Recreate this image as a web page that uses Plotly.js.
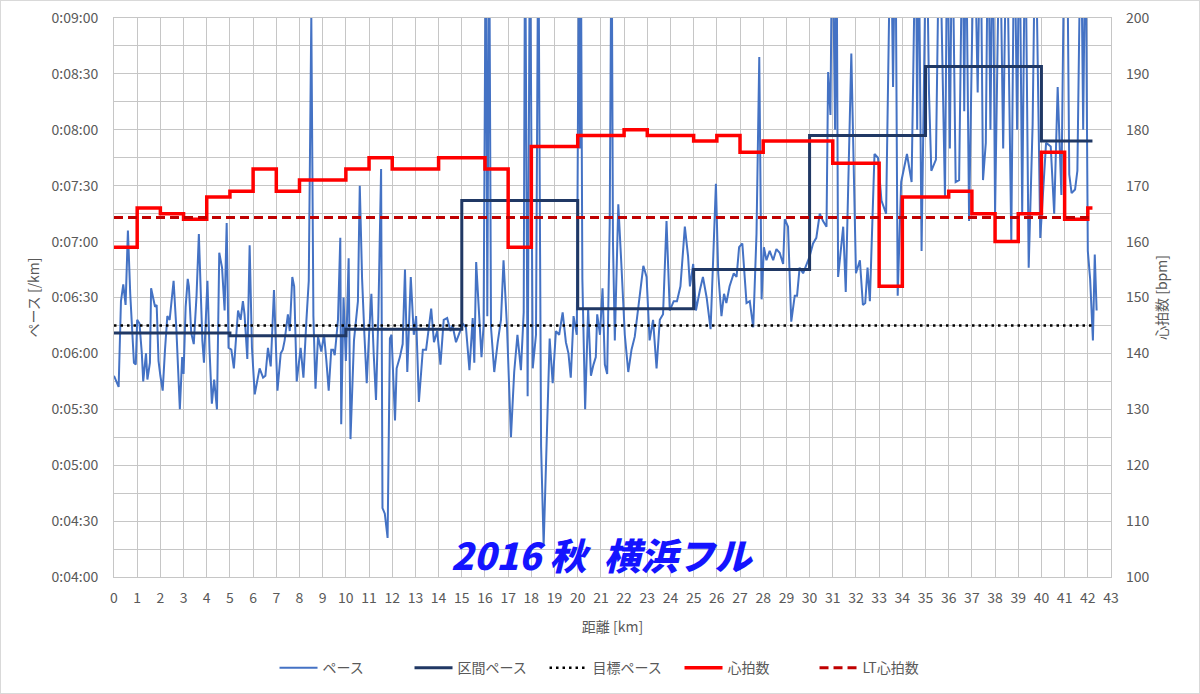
<!DOCTYPE html>
<html>
<head>
<meta charset="utf-8">
<script src="https://cdn.plot.ly/plotly-3.0.1.min.js"></script>
<style>
html,body{margin:0;padding:0;background:#fff;}
#chart{width:1200px;height:694px;box-sizing:border-box;border:1px solid #d9d9d9;}
</style>
</head>
<body>
<div id="chart"></div>
<script>
// ---- data (pace in seconds per km, heart rate in bpm) ----
const paceKm = [0.0,0.1,0.2,0.3,0.4,0.5,0.6,0.7,0.8,0.86,0.94,1.0,1.1,1.2,1.26,1.38,1.44,1.55,1.6,1.7,1.77,1.84,1.92,2.0,2.1,2.2,2.3,2.4,2.5,2.57,2.69,2.76,2.84,2.94,3.0,3.09,3.18,3.23,3.33,3.44,3.56,3.66,3.75,3.81,3.88,3.96,4.03,4.12,4.22,4.32,4.44,4.54,4.66,4.77,4.86,4.94,5.06,5.17,5.27,5.35,5.46,5.56,5.63,5.75,5.85,5.95,6.07,6.17,6.28,6.43,6.53,6.64,6.76,6.9,7.05,7.19,7.28,7.36,7.5,7.58,7.69,7.77,7.88,8.05,8.17,8.3,8.4,8.51,8.6,8.69,8.8,8.94,9.06,9.16,9.26,9.37,9.45,9.52,9.66,9.76,9.8,9.9,10.0,10.12,10.2,10.35,10.45,10.52,10.6,10.7,10.8,10.9,11.0,11.1,11.2,11.3,11.4,11.52,11.58,11.68,11.8,11.9,11.97,12.05,12.12,12.19,12.33,12.45,12.55,12.65,12.8,12.93,13.03,13.15,13.32,13.46,13.58,13.68,13.8,13.94,14.08,14.22,14.37,14.51,14.6,14.75,14.9,15.04,15.18,15.33,15.47,15.54,15.62,15.75,15.85,15.94,16.04,16.1,16.18,16.26,16.4,16.55,16.69,16.8,16.95,17.12,17.26,17.4,17.55,17.67,17.73,17.84,17.94,18.06,18.2,18.3,18.42,18.53,18.67,18.79,18.92,19.06,19.2,19.35,19.49,19.6,19.7,19.82,19.96,20.06,20.1,20.13,20.2,20.32,20.45,20.57,20.68,20.78,20.84,20.96,21.07,21.17,21.27,21.38,21.46,21.52,21.6,21.75,21.89,22.03,22.18,22.32,22.46,22.65,22.83,22.97,23.1,23.25,23.4,23.54,23.68,23.83,23.97,24.14,24.28,24.43,24.62,24.76,24.84,24.98,25.1,25.27,25.4,25.56,25.73,25.84,25.96,26.06,26.2,26.31,26.41,26.55,26.73,26.85,26.96,27.1,27.28,27.42,27.57,27.71,27.83,27.93,28.03,28.14,28.28,28.43,28.57,28.71,28.86,28.93,29.07,29.21,29.36,29.46,29.57,29.72,29.86,30.0,30.15,30.29,30.44,30.58,30.73,30.8,30.9,30.98,31.1,31.16,31.23,31.45,31.56,31.8,32.0,32.17,32.3,32.4,32.5,32.6,32.8,32.95,33.1,33.3,33.5,33.6,33.7,33.8,33.95,34.2,34.4,34.58,34.64,34.7,34.83,35.04,35.15,35.25,35.45,35.6,35.84,35.94,36.05,36.15,36.3,36.45,36.6,36.67,36.74,36.88,37.1,37.25,37.37,37.48,37.6,37.7,37.8,37.9,38.0,38.2,38.35,38.5,38.7,38.83,38.95,39.05,39.17,39.3,39.45,39.62,39.74,39.95,40.2,40.4,40.55,40.7,40.86,41.0,41.1,41.2,41.3,41.45,41.55,41.7,41.8,41.9,42.0,42.1,42.22,42.3,42.38];
const paceSec = [348,345,342,388,397,386,426,392,370,355,354,378,376,360,345,360,346,355,395,390,385,386,356,348,340,362,380,378,392,399,373,352,330,358,349,385,400,396,371,365,391,424,390,367,355,380,399,362,333,346,330,414,406,383,430,363,362,352,370,383,378,388,381,357,418,363,338,345,352,347,348,363,353,394,340,360,362,367,381,372,401,396,345,363,347,378,399,541,380,341,369,361,370,356,340,362,362,359,378,422,322,390,356,411,314,367,380,388,450,400,370,344,370,392,360,335,380,459,277,274,261,368,370,340,324,352,358,365,405,350,401,370,380,334,362,362,375,384,366,372,354,378,379,372,375,366,371,376,374,351,379,355,409,378,358,375,600,380,600,374,350,366,378,410,374,315,350,370,351,382,600,337,600,352,370,600,310,257,320,368,344,372,370,382,366,360,347,380,370,600,470,600,400,330,384,348,354,358,381,370,395,354,349,430,600,420,367,440,406,370,350,362,369,387,407,401,367,378,352,378,381,431,383,388,388,396,428,412,396,408,383,394,401,390,373,410,451,403,380,392,387,396,403,401,417,419,387,388,374,424,519,389,417,410,415,410,416,414,408,432,428,377,391,391,406,403,408,412,419,422,435,431,428,511,488,600,480,600,401,428,393,521,403,410,386,387,406,388,467,465,442,435,600,503,600,391,452,467,452,600,480,600,415,600,500,458,464,600,444,600,470,600,452,453,600,490,600,431,600,500,600,453,473,600,480,600,435,600,470,600,420,600,480,600,435,600,406,483,600,422,473,471,435,503,445,600,600,456,446,448,458,600,480,600,415,400,367,413,383];

const zoneKm   = [0,5,10,15,20,25,30,35,40,42.2];
const zonePace = [371,369.5,373,442,384,405,477,514,474,474];

const targetKm   = [0,42.2];
const targetPace = [375,375];

const hrKm = [0,1,2,3,4,5,6,7,8,9,10,11,12,13,14,15,16,17,18,19,20,21,22,23,24,25,26,27,28,29,30,31,32,33,34,35,36,37,38,39,40,41,42,42.2];
const hrBpm = [159,166,165,164,168,169,173,169,171,171,173,175,173,173,175,175,173,159,177,177,179,179,180,179,179,178,179,176,178,178,178,174,174,152,168,168,169,165,160,165,176,164,166,166];

const ltKm  = [0,42.2];
const ltBpm = [164.3,164.3];

const paceTickVals = [240,270,300,330,360,390,420,450,480,510,540];
const paceTickText = ['0:04:00','0:04:30','0:05:00','0:05:30','0:06:00','0:06:30','0:07:00','0:07:30','0:08:00','0:08:30','0:09:00'];

const seriesNames = ['ペース','区間ペース','目標ペース','心拍数','LT心拍数'];
const titleText = '2016 秋  横浜フル';

// ---- chart ----
const FONT = 'Noto Sans CJK JP, Noto Sans, sans-serif';
const GRID = '#c6c6c6';
const TXT = '#595959';

const traces = [
  {x: paceKm, y: paceSec, name: seriesNames[0], type: 'scatter', mode: 'lines',
   line: {color: '#4472c4', width: 2}, yaxis: 'y'},
  {x: zoneKm, y: zonePace, name: seriesNames[1], type: 'scatter', mode: 'lines',
   line: {color: '#203864', width: 3, shape: 'hv'}, yaxis: 'y'},
  {x: targetKm, y: targetPace, name: seriesNames[2], type: 'scatter', mode: 'lines',
   line: {color: '#000000', width: 2.5, dash: '2.5px,4px'}, yaxis: 'y'},
  {x: hrKm, y: hrBpm, name: seriesNames[3], type: 'scatter', mode: 'lines',
   line: {color: '#ff0000', width: 3.5, shape: 'hv'}, yaxis: 'y2'},
  {x: ltKm, y: ltBpm, name: seriesNames[4], type: 'scatter', mode: 'lines',
   line: {color: '#c00000', width: 3, dash: '9px,5px'}, yaxis: 'y2'}
];

const layout = {
  width: 1198, height: 692,
  margin: {l: 113, r: 88, t: 17, b: 116, autoexpand: false},
  paper_bgcolor: '#ffffff', plot_bgcolor: '#ffffff',
  font: {family: FONT, size: 14, color: TXT},
  showlegend: true,
  legend: {orientation: 'h', x: 0.161, xanchor: 'left', y: -0.163, yanchor: 'middle',
           font: {family: FONT, size: 14, color: TXT}, itemwidth: 38,
           entrywidth: 82, entrywidthmode: 'pixels', tracegroupgap: 0},
  xaxis: {range: [0, 43], tickmode: 'linear', tick0: 0, dtick: 1,
          showgrid: true, gridcolor: GRID, gridwidth: 1, zeroline: false,
          showline: true, linecolor: GRID, mirror: true,
          ticks: '', ticklabelstandoff: 8,
          tickfont: {family: FONT, size: 14, color: TXT},
          title: {text: '距離 [km]', font: {family: FONT, size: 14, color: TXT}, standoff: 16}},
  yaxis: {range: [240, 540], tickmode: 'array', tickvals: paceTickVals, ticktext: paceTickText,
          showgrid: true, gridcolor: GRID, gridwidth: 1, zeroline: false,
          showline: true, linecolor: GRID, mirror: true,
          minor: {tick0: 240, dtick: 15, showgrid: true, gridcolor: GRID, gridwidth: 1, ticks: ''},
          ticks: '', ticklabelstandoff: 12,
          tickfont: {family: FONT, size: 14, color: TXT},
          title: {text: 'ペース [/km]', font: {family: FONT, size: 14, color: TXT}, standoff: 8}},
  yaxis2: {range: [100, 200], tickmode: 'linear', tick0: 100, dtick: 10, overlaying: 'y', side: 'right',
           showgrid: false, zeroline: false, ticks: '', ticklabelstandoff: 14,
           tickfont: {family: FONT, size: 14, color: TXT},
           title: {text: '心拍数 [bpm]', font: {family: FONT, size: 14, color: TXT}, standoff: 8}},
  annotations: [{
    text: titleText, xref: 'paper', yref: 'paper', x: 0.49, y: 0.041,
    xanchor: 'center', yanchor: 'middle', showarrow: false,
    font: {family: FONT, size: 37, color: '#1414ff', weight: 900, style: 'italic'}
  }]
};

Plotly.newPlot('chart', traces, layout, {displayModeBar: false, staticPlot: true});
</script>
</body>
</html>
